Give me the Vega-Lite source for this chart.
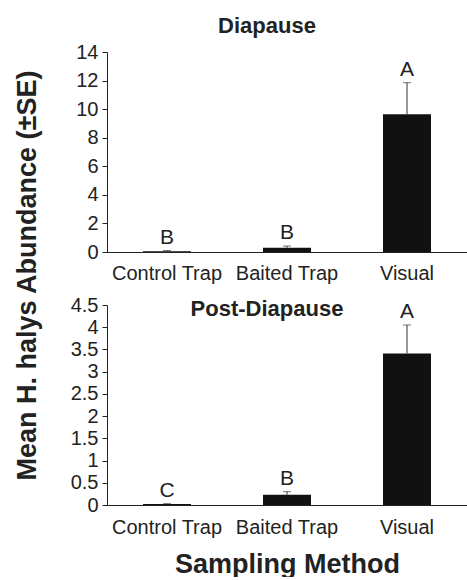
{
  "$schema": "https://vega.github.io/schema/vega-lite/v6.json",
  "background": "white",
  "padding": {"left": 12, "top": 15, "right": 0, "bottom": 0},
  "config": {
    "font": "Liberation Sans",
    "view": {"stroke": null},
    "axis": {"labelFont": "Liberation Sans", "titleFont": "Liberation Sans", "labelColor": "#222", "titleColor": "#222", "domainColor": "#222", "tickColor": "#222", "grid": false, "labelOverlap": false},
    "title": {"font": "Liberation Sans", "fontSize": 22, "fontWeight": "bold", "color": "#222"}
  },
  "datasets": {
    "diapause": [
      {"method": "Control Trap", "mean": 0.05, "upper": 0.1, "letter": "B"},
      {"method": "Baited Trap", "mean": 0.3, "upper": 0.42, "letter": "B"},
      {"method": "Visual", "mean": 9.65, "upper": 11.85, "letter": "A"}
    ],
    "post": [
      {"method": "Control Trap", "mean": 0.02, "upper": 0.03, "letter": "C"},
      {"method": "Baited Trap", "mean": 0.23, "upper": 0.3, "letter": "B"},
      {"method": "Visual", "mean": 3.41, "upper": 4.05, "letter": "A"}
    ]
  },
  "bounds": "flush",
  "spacing": 53,
  "vconcat": [
    {
      "title": {"text": "Diapause", "offset": 4, "dx": -20},
      "width": 360,
      "height": 200,
      "data": {"name": "diapause"},
      "encoding": {
        "x": {"field": "method", "type": "nominal", "sort": ["Control Trap", "Baited Trap", "Visual"],
          "scale": {"paddingInner": 0.6, "paddingOuter": 0.3},
          "axis": {"title": null, "labelAngle": 0, "labelFontSize": 20, "ticks": false, "labelPadding": 11}},
        "y": {"field": "mean", "type": "quantitative", "scale": {"domain": [0, 14], "nice": false},
          "axis": {"values": [0, 2, 4, 6, 8, 10, 12, 14], "labelFontSize": 20, "tickSize": 5, "labelPadding": 4,
            "title": "Mean H. halys Abundance (±SE)", "titleFontSize": 27, "titleFontWeight": "bold", "titleX": -66, "titleY": 223}}
      },
      "layer": [
        {"mark": {"type": "bar", "color": "#111"}},
        {"mark": {"type": "rule", "color": "#333", "strokeWidth": 1},
          "encoding": {"y2": {"field": "upper"}}},
        {"mark": {"type": "tick", "color": "#333", "size": 8, "thickness": 1},
          "encoding": {"y": {"field": "upper", "type": "quantitative"}}},
        {"mark": {"type": "text", "baseline": "bottom", "dy": -3, "fontSize": 21, "color": "#222"},
          "encoding": {"y": {"field": "upper", "type": "quantitative"}, "text": {"field": "letter"}}}
      ]
    },
    {
      "title": {"text": "Post-Diapause", "offset": -26, "dx": -20},
      "width": 360,
      "height": 200,
      "data": {"name": "post"},
      "encoding": {
        "x": {"field": "method", "type": "nominal", "sort": ["Control Trap", "Baited Trap", "Visual"],
          "scale": {"paddingInner": 0.6, "paddingOuter": 0.3},
          "axis": {"title": "Sampling Method", "titleFontSize": 27, "titleFontWeight": "bold", "titlePadding": 14, "labelAngle": 0, "labelFontSize": 20, "ticks": false, "labelPadding": 12}},
        "y": {"field": "mean", "type": "quantitative", "scale": {"domain": [0, 4.5], "nice": false},
          "axis": {"values": [0, 0.5, 1, 1.5, 2, 2.5, 3, 3.5, 4, 4.5], "format": "~g", "labelFontSize": 20, "tickSize": 5, "labelPadding": 4, "title": null}}
      },
      "layer": [
        {"mark": {"type": "bar", "color": "#111"}},
        {"mark": {"type": "rule", "color": "#333", "strokeWidth": 1},
          "encoding": {"y2": {"field": "upper"}}},
        {"mark": {"type": "tick", "color": "#333", "size": 8, "thickness": 1},
          "encoding": {"y": {"field": "upper", "type": "quantitative"}}},
        {"mark": {"type": "text", "baseline": "bottom", "dy": -3, "fontSize": 21, "color": "#222"},
          "encoding": {"y": {"field": "upper", "type": "quantitative"}, "text": {"field": "letter"}}}
      ]
    }
  ]
}
